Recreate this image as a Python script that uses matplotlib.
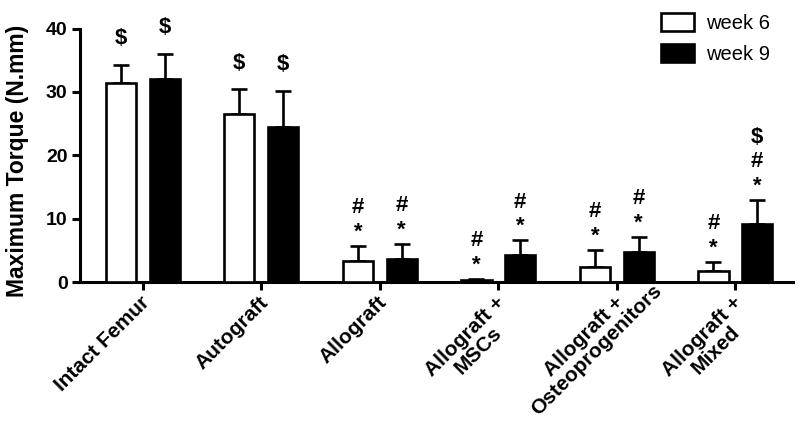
import matplotlib
matplotlib.use('Agg')
import matplotlib.pyplot as plt
from matplotlib.patches import Patch
import numpy as np

plt.rcParams['font.family'] = ['Liberation Sans', 'DejaVu Sans']

# values
groups = ['Intact Femur', 'Autograft', 'Allograft', 'Allograft +\nMSCs',
          'Allograft +\nOsteoprogenitors', 'Allograft +\nMixed']
week6 = [31.4, 26.6, 3.4, 0.4, 2.4, 1.8]
week6_err = [2.8, 3.8, 2.3, 0.1, 2.7, 1.4]
week9 = [32.1, 24.5, 3.6, 4.2, 4.7, 9.1]
week9_err = [3.9, 5.6, 2.4, 2.4, 2.4, 3.9]
# significance marks, listed from bottom to top
week6_marks = ['$', '$', '*#', '*#', '*#', '*#']
week9_marks = ['$', '$', '*#', '*#', '*#', '*#$']

fig = plt.figure(figsize=(8, 4.21), dpi=100)
ax = fig.add_axes([0.1, 0.33, 0.891, 0.602])

x = np.arange(len(groups))
off = 0.185
w = 0.255

ax.bar(x - off, week6, w, color='white', edgecolor='black', linewidth=1.9, zorder=3)
ax.bar(x + off, week9, w, color='black', edgecolor='black', linewidth=1.9, zorder=3)
ax.errorbar(x - off, week6, yerr=[np.zeros(len(x)), week6_err], fmt='none',
            ecolor='black', elinewidth=1.9, capsize=6, capthick=1.9, zorder=2)
ax.errorbar(x + off, week9, yerr=[np.zeros(len(x)), week9_err], fmt='none',
            ecolor='black', elinewidth=1.9, capsize=6, capthick=1.9, zorder=2)


def put_marks(xs, tops, marks):
    for xi, top, m in zip(xs, tops, marks):
        pos = 19 if m[0] == '$' else 10
        for s in m:
            ax.annotate(s, (xi, top), xytext=(0, pos), textcoords='offset points',
                        ha='center', va='center', fontsize=16, fontweight='bold')
            pos += 17.5


put_marks(x - off, np.add(week6, week6_err), week6_marks)
put_marks(x + off, np.add(week9, week9_err), week9_marks)

ax.set_xlim(-0.53, len(groups) - 0.515)
ax.set_ylim(0, 40)
ax.set_yticks([0, 10, 20, 30, 40])
ax.set_xticks(x)
ax.set_xticklabels([])
for lab in ax.get_yticklabels():
    lab.set_fontsize(14)
    lab.set_fontweight('bold')
ax.set_ylabel('Maximum Torque (N.mm)', fontsize=16.5, fontweight='bold')
ax.yaxis.set_label_coords(-0.072, 0.48)

for side in ['top', 'right']:
    ax.spines[side].set_visible(False)
for side in ['left', 'bottom']:
    ax.spines[side].set_linewidth(2.2)
ax.tick_params(width=2.2, length=6, pad=3)

# rotated group labels: first line ends under the tick, second line centred on it
renderer = fig.canvas.get_renderer()
c45 = np.cos(np.pi / 4)
for xi, name in zip(x, groups):
    lines = name.split('\n')
    kw = dict(xycoords=ax.get_xaxis_transform(), textcoords='offset pixels',
              rotation=45, rotation_mode='anchor', fontsize=15, fontweight='bold')
    ax.annotate(lines[0], (xi, 0), xytext=(-3, -11), ha='right', va='top', **kw)
    if len(lines) > 1:
        probe = fig.text(0, 0, lines[0], fontsize=15, fontweight='bold')
        bb = probe.get_window_extent(renderer)
        probe.remove()
        w1, h1 = bb.width, bb.height
        dx = -3 - w1 / 2 * c45 + h1 * c45
        dy = -11 - w1 / 2 * c45 - h1 * c45
        ax.annotate(lines[1], (xi, 0), xytext=(dx, dy), ha='center', va='top', **kw)

handles = [Patch(facecolor='white', edgecolor='black', linewidth=1.9, label='week 6'),
           Patch(facecolor='black', edgecolor='black', linewidth=1.9, label='week 9')]
fig.legend(handles=handles, loc='upper left', bbox_to_anchor=(0.826, 0.968),
           frameon=False, fontsize=14.5, handlelength=1.65, handleheight=1.0,
           handletextpad=0.6, labelspacing=0.52, borderpad=0, borderaxespad=0)

fig.savefig('out.png', dpi=100)
